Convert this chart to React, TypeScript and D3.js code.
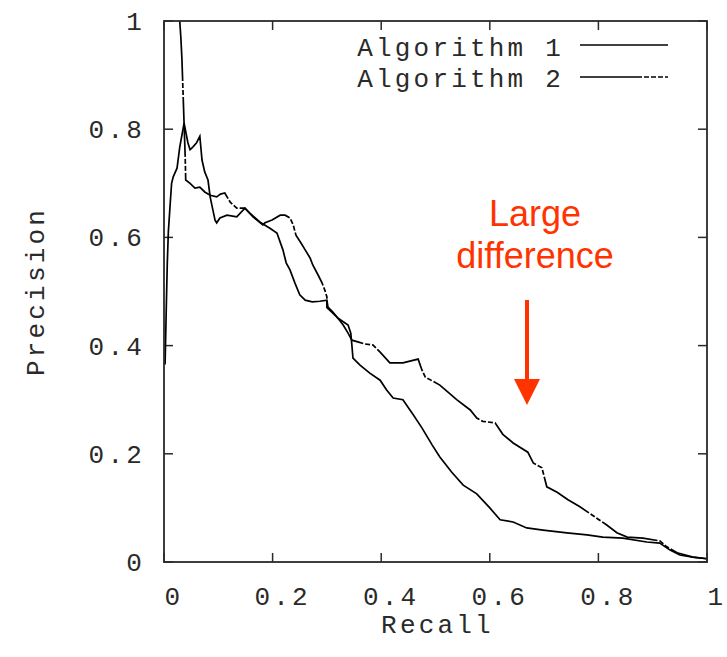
import React from 'react';
import * as d3 from 'd3';

// Algorithm 1 (solid)
const alg1Recall = [0.002, 0.004, 0.006, 0.008, 0.011, 0.014, 0.017, 0.024, 0.029, 0.037, 0.044, 0.048, 0.053, 0.06, 0.066, 0.07, 0.075, 0.081, 0.085, 0.09, 0.094, 0.097, 0.103, 0.116, 0.134, 0.149, 0.158, 0.177, 0.195, 0.208, 0.219, 0.225, 0.232, 0.241, 0.25, 0.26, 0.273, 0.287, 0.3, 0.302, 0.311, 0.32, 0.33, 0.339, 0.344, 0.346, 0.348, 0.355, 0.361, 0.379, 0.398, 0.41, 0.422, 0.44, 0.459, 0.475, 0.494, 0.508, 0.53, 0.551, 0.576, 0.6, 0.619, 0.643, 0.668, 0.698, 0.742, 0.779, 0.808, 0.845, 0.889, 0.913, 0.932, 0.95, 0.974, 1.0];
const alg1Precision = [0.365, 0.46, 0.55, 0.61, 0.656, 0.7, 0.712, 0.728, 0.767, 0.811, 0.775, 0.762, 0.767, 0.775, 0.787, 0.743, 0.721, 0.706, 0.675, 0.651, 0.632, 0.627, 0.636, 0.641, 0.638, 0.654, 0.645, 0.628, 0.617, 0.608, 0.577, 0.553, 0.54, 0.516, 0.494, 0.484, 0.481, 0.482, 0.484, 0.471, 0.462, 0.451, 0.444, 0.438, 0.423, 0.401, 0.377, 0.37, 0.364, 0.349, 0.336, 0.318, 0.303, 0.3, 0.272, 0.248, 0.216, 0.194, 0.166, 0.142, 0.126, 0.1, 0.078, 0.074, 0.063, 0.059, 0.054, 0.05, 0.046, 0.044, 0.037, 0.035, 0.022, 0.013, 0.009, 0.006];

// Algorithm 2 (dashed)
const alg2Recall = [0.029, 0.031, 0.033, 0.035, 0.037, 0.039, 0.04, 0.048, 0.057, 0.066, 0.075, 0.085, 0.097, 0.104, 0.112, 0.122, 0.134, 0.149, 0.164, 0.182, 0.186, 0.199, 0.214, 0.223, 0.232, 0.238, 0.243, 0.252, 0.26, 0.269, 0.274, 0.284, 0.291, 0.296, 0.3, 0.3, 0.309, 0.32, 0.33, 0.339, 0.346, 0.357, 0.37, 0.385, 0.398, 0.416, 0.44, 0.468, 0.475, 0.481, 0.508, 0.523, 0.539, 0.564, 0.576, 0.587, 0.61, 0.624, 0.643, 0.67, 0.68, 0.696, 0.705, 0.724, 0.744, 0.766, 0.794, 0.816, 0.834, 0.853, 0.882, 0.913, 0.926, 0.945, 0.974, 1.0];
const alg2Precision = [1.0, 0.97, 0.93, 0.87, 0.81, 0.75, 0.706, 0.7, 0.691, 0.693, 0.684, 0.678, 0.675, 0.68, 0.682, 0.665, 0.654, 0.654, 0.638, 0.623, 0.627, 0.632, 0.641, 0.641, 0.636, 0.623, 0.604, 0.59, 0.577, 0.562, 0.549, 0.53, 0.516, 0.503, 0.49, 0.47, 0.462, 0.451, 0.438, 0.423, 0.41, 0.407, 0.403, 0.401, 0.388, 0.368, 0.368, 0.375, 0.355, 0.342, 0.327, 0.314, 0.3, 0.281, 0.266, 0.26, 0.257, 0.236, 0.22, 0.203, 0.183, 0.174, 0.139, 0.129, 0.115, 0.102, 0.083, 0.068, 0.054, 0.046, 0.044, 0.039, 0.028, 0.017, 0.009, 0.006];

const xTicks = [0, 0.2, 0.4, 0.6, 0.8, 1];
const yTicks = [0, 0.2, 0.4, 0.6, 0.8, 1];
const tickLabel = (v: number) => (v === 0 || v === 1 ? String(v) : v.toFixed(1));

const W = 727;
const H = 657;
const margin = { left: 164, right: 20, top: 21, bottom: 95 };

const mono = '"Liberation Mono", "DejaVu Sans Mono", monospace';
const sans = '"Liberation Sans", Arial, sans-serif';
const ink = '#2a2a2a';
const red = '#ff3300';

// shared style for the gnuplot-ish courier text
const monoText = { fontFamily: mono, fontSize: 26, letterSpacing: 3.2, fill: ink } as const;

export default function App() {
  const x = d3.scaleLinear().domain([0, 1]).range([margin.left, W - margin.right]);
  const y = d3.scaleLinear().domain([0, 1]).range([H - margin.bottom, margin.top]);

  const line = d3.line<[number, number]>()
    .x(d => x(d[0]))
    .y(d => y(d[1]));

  const pts1 = alg1Recall.map((r, i) => [r, alg1Precision[i]] as [number, number]);
  const pts2 = alg2Recall.map((r, i) => [r, alg2Precision[i]] as [number, number]);

  const x0 = x(0), x1 = x(1), y0 = y(0), y1 = y(1);
  const tl = 9;

  return (
    <div style={{ position: 'absolute', left: 0, top: 0 }}>
      <svg width={W} height={H} style={{ display: 'block', background: '#fff' }}>
        {/* ticks on all four sides */}
        {xTicks.map(t => (
          <g key={'xt' + t}>
            <line x1={x(t)} x2={x(t)} y1={y0} y2={y0 - tl} stroke={ink} strokeWidth={1.5} />
            <line x1={x(t)} x2={x(t)} y1={y1} y2={y1 + tl} stroke={ink} strokeWidth={1.5} />
            <text x={x(t) + 10} y={y0 + 43} textAnchor="middle" {...monoText}>
              {tickLabel(t)}
            </text>
          </g>
        ))}
        {yTicks.map(t => (
          <g key={'yt' + t}>
            <line x1={x0} x2={x0 + tl} y1={y(t)} y2={y(t)} stroke={ink} strokeWidth={1.5} />
            <line x1={x1} x2={x1 - tl} y1={y(t)} y2={y(t)} stroke={ink} strokeWidth={1.5} />
            <text x={145} y={y(t) + 9} textAnchor="end" {...monoText}>
              {tickLabel(t)}
            </text>
          </g>
        ))}

        {/* curves */}
        <path d={line(pts1) || ''} fill="none" stroke="#000" strokeWidth={1.7} />
        <path d={line(pts2) || ''} fill="none" stroke="#000" strokeWidth={1.7} strokeDasharray="60 2 5 2 5 2" />

        {/* border */}
        <rect x={x0} y={y1} width={x1 - x0} height={y0 - y1} fill="none" stroke={ink} strokeWidth={1.8} />

        {/* legend */}
        <text x={564} y={56} textAnchor="end" {...monoText}>Algorithm 1</text>
        <line x1={580} x2={668} y1={45} y2={45} stroke="#000" strokeWidth={1.6} />
        <text x={564} y={87} textAnchor="end" {...monoText}>Algorithm 2</text>
        <line x1={580} x2={668} y1={77} y2={77} stroke="#000" strokeWidth={1.6} strokeDasharray="62 2 5 2 5 2 5 2" />

        {/* axis titles */}
        <text x={(x0 + x1) / 2 + 2} y={633} textAnchor="middle" {...monoText}>Recall</text>
        <text transform={`translate(44, ${(y0 + y1) / 2}) rotate(-90)`} textAnchor="middle" {...monoText}>Precision</text>

        {/* annotation */}
        <text x={535} y={226} textAnchor="middle" fontFamily={sans} fontSize={36} fill={red}>Large</text>
        <text x={535} y={268} textAnchor="middle" fontFamily={sans} fontSize={36} fill={red}>difference</text>
        <rect x={525} y={300} width={4} height={80} fill={red} />
        <path d="M514,379 L540,379 L527,405 Z" fill={red} />
      </svg>
    </div>
  );
}
